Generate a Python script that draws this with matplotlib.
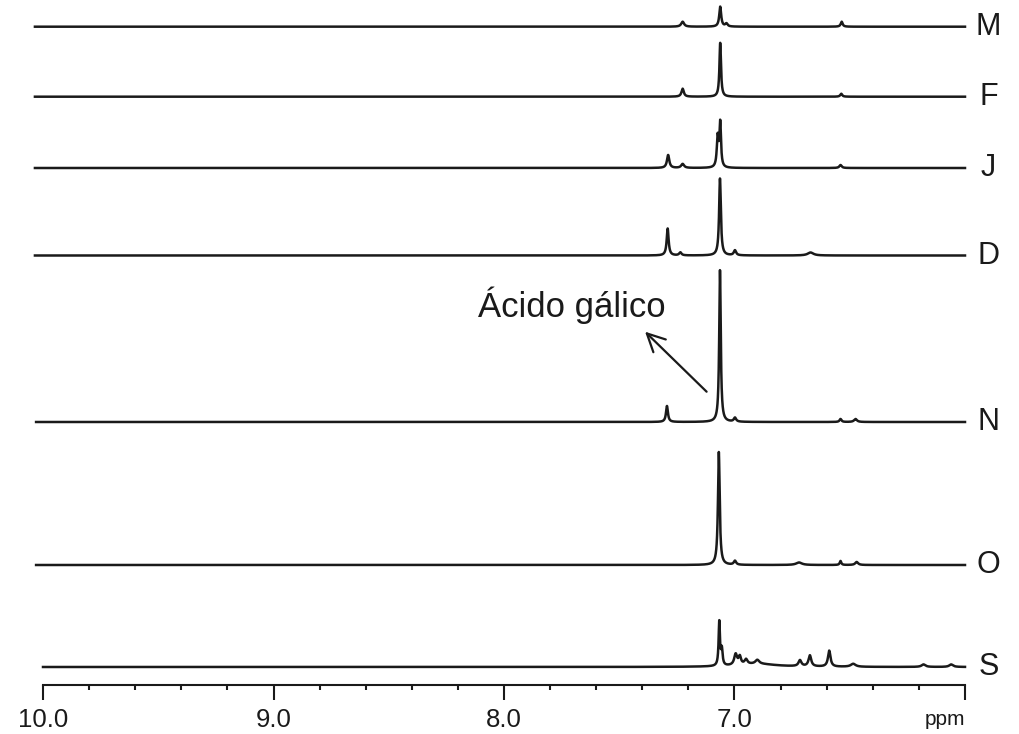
import numpy as np
import matplotlib
matplotlib.use("Agg")
import matplotlib.pyplot as plt
from matplotlib.ticker import MultipleLocator

plt.rcParams['font.family'] = ['Liberation Sans', 'DejaVu Sans']

# Stacked 1H NMR spectra, aromatic region (ppm)
sample_labels = ["M", "F", "J", "D", "N", "O", "S"]
# vertical offset of each trace baseline
baselines = [658.3, 588.3, 517.0, 429.5, 263.0, 120.0, 18.0]

# peak tables: (shift ppm, intensity, FWHM ppm)
peaks_M = [(7.062, 20, 0.010), (7.035, 3, 0.012), (7.225, 5, 0.015), (6.535, 5, 0.010)]
peaks_F = [(7.062, 54, 0.008), (7.225, 8, 0.012), (6.537, 3, 0.010)]
peaks_J = [(7.062, 44, 0.008), (7.073, 30, 0.009), (7.288, 13, 0.012),
           (7.225, 4, 0.015), (6.540, 3, 0.012)]
peaks_D = [(7.063, 77, 0.009), (7.290, 27, 0.010), (7.235, 3, 0.012),
           (6.998, 5, 0.012), (6.670, 3, 0.030)]
peaks_N = [(7.063, 152, 0.008), (7.293, 16, 0.010), (6.998, 4, 0.012),
           (6.540, 3, 0.010), (6.475, 3, 0.015)]
peaks_O = [(7.068, 113, 0.009), (6.998, 4, 0.012), (6.720, 2.5, 0.030),
           (6.540, 4, 0.008), (6.470, 3, 0.015)]
peaks_S = [(7.066, 44, 0.007), (7.055, 16, 0.008), (6.995, 11, 0.015),
           (6.977, 8, 0.012), (6.950, 5, 0.015), (6.901, 4, 0.020),
           (6.900, 3, 0.200), (6.716, 6, 0.015), (6.673, 11, 0.014),
           (6.589, 16, 0.013), (6.485, 3, 0.025), (6.180, 2.5, 0.02),
           (6.060, 2.5, 0.02)]
peak_tables = [peaks_M, peaks_F, peaks_J, peaks_D, peaks_N, peaks_O, peaks_S]

# chemical-shift range of each trace
trace_start = [10.035, 10.035, 10.035, 10.035, 10.03, 10.03, 10.0]
trace_end = 6.0

major_ticks = [10.0, 9.0, 8.0, 7.0, 6.0]
major_labels = ["10.0", "9.0", "8.0", "7.0", ""]


def spectrum(ppm, table):
    y = np.zeros_like(ppm)
    for c, h, w in table:
        y += h / (1.0 + ((ppm - c) / (w / 2.0)) ** 2)
    return y


fig = plt.figure(figsize=(10.2, 7.34), dpi=100)
ax = fig.add_axes([43 / 1020, 49 / 734, 922 / 1020, 685 / 734])

for label, base, table, x0 in zip(sample_labels, baselines, peak_tables, trace_start):
    ppm = np.linspace(x0, trace_end, 9000)
    ax.plot(ppm, base + spectrum(ppm, table), color="#1a1a1a", lw=1.8,
            solid_joinstyle="round", clip_on=False)
    ax.text(5.898, base, label, fontsize=22, ha="center", va="center",
            color="#1a1a1a")

ax.set_xlim(10.0, 6.0)
ax.set_ylim(0, 685)

for s in ["top", "left", "right"]:
    ax.spines[s].set_visible(False)
ax.spines["bottom"].set_linewidth(1.5)
ax.spines["bottom"].set_color("#1a1a1a")
ax.set_yticks([])

ax.set_xticks(major_ticks)
ax.set_xticklabels(major_labels)
ax.xaxis.set_minor_locator(MultipleLocator(0.2))
ax.tick_params(axis="x", which="major", direction="out", length=10.8, width=1.5,
               labelsize=18.5, pad=5.5, colors="#1a1a1a")
ax.tick_params(axis="x", which="minor", direction="out", length=3.6, width=1.5,
               colors="#1a1a1a")
ax.text(6.0, -34.5, "ppm", fontsize=15, ha="right", va="center", color="#1a1a1a")

ax.annotate("", xy=(7.388, 353.3), xytext=(7.121, 293.3),
            arrowprops=dict(arrowstyle="->", lw=1.6, color="#1a1a1a",
                            mutation_scale=32, shrinkA=0, shrinkB=0))
ax.text(7.705, 380, "Ácido gálico", fontsize=25, ha="center", va="center",
        color="#1a1a1a")

fig.savefig("out.png", dpi=100, facecolor="white")
